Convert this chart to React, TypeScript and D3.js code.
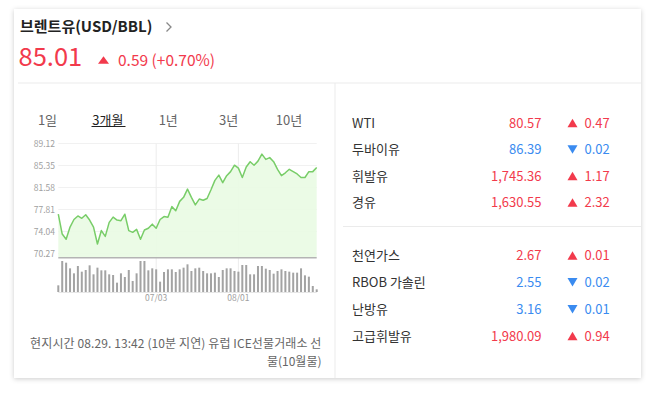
import * as d3 from 'd3';

const FONT = "'Noto Sans CJK KR', 'Noto Sans', sans-serif";
const RED = '#f23a4c';
const BLUE = '#3a8bf0';

// ── Data ──────────────────────────────────────────────────
const title = '브렌트유(USD/BBL)';
const price = '85.01';
const change = '0.59 (+0.70%)';

const tabs = ['1일', '3개월', '1년', '3년', '10년'];
const activeTab = 1;

// daily close, 3 months (index 25 = 07/03, 46 = 08/01)
const closes = [
  77.0, 73.6, 72.7, 74.8, 76.1, 76.7, 76.3, 76.9, 76.0, 74.8,
  71.9, 74.2, 73.2, 75.6, 76.5, 76.0, 75.9, 77.0, 74.2, 73.9,
  74.4, 72.7, 74.3, 74.6, 75.3, 74.6, 76.1, 76.6, 76.5, 78.3,
  77.6, 79.2, 79.9, 81.3, 79.9, 78.6, 79.6, 79.4, 79.7, 81.2,
  82.8, 83.7, 82.4, 83.6, 84.3, 85.4, 84.9, 83.3, 85.1, 86.0,
  85.4, 86.1, 87.3, 86.4, 86.7, 86.0, 84.7, 83.6, 84.1, 84.7,
  84.3, 83.9, 83.3, 83.3, 84.3, 84.3, 85.01,
];

const volumes = [
  20, 93, 88, 71, 56, 78, 61, 66, 80, 53,
  73, 65, 65, 53, 51, 28, 56, 45, 66, 33,
  56, 93, 93, 65, 71, 68, 31, 60, 68, 68,
  60, 68, 73, 83, 63, 71, 73, 63, 56, 56,
  58, 45, 66, 71, 71, 63, 61, 81, 81, 53,
  53, 78, 78, 70, 66, 55, 63, 68, 63, 61,
  58, 58, 71, 50, 46, 18, 8,
];

const yTicks = [70.27, 74.04, 77.81, 81.58, 85.35, 89.12];
const xTickIndex = [25, 46];
const xTickLabels = ['07/03', '08/01'];

const names = ['WTI', '두바이유', '휘발유', '경유', '천연가스', 'RBOB 가솔린', '난방유', '고급휘발유'];
const values = ['80.57', '86.39', '1,745.36', '1,630.55', '2.67', '2.55', '3.16', '1,980.09'];
const changes = ['0.47', '0.02', '1.17', '2.32', '0.01', '0.02', '0.01', '0.94'];
const ups = [true, false, true, true, true, false, false, true];

const footnote1 = '현지시간 08.29. 13:42 (10분 지연) 유럽 ICE선물거래소 선';
const footnote2 = '물(10월물)';

export default function App() {
  const W = 657, H = 393;

  // ── Scales ──────────────────────────────────────────────
  const x = d3.scaleLinear().domain([0, closes.length - 1]).range([58.3, 316.7]);
  const y = d3.scaleLinear().domain([70.27, 89.12]).range([253.5, 143.5]);
  const plotBottom = 257;
  const vy = d3.scaleLinear().domain([0, d3.max(volumes)!]).range([292, 261]);

  const line = d3.line<number>().x((_, i) => x(i)).y(d => y(d));
  const area = d3.area<number>().x((_, i) => x(i)).y0(plotBottom).y1(d => y(d));

  const tabX = d3.scalePoint<string>().domain(tabs).range([47.5, 289]);

  const rowY = d3.scaleLinear().domain([0, 3]).range([123, 202.5]);
  const rowY2 = d3.scaleLinear().domain([4, 7]).range([255.5, 336]);
  const ry = (i: number) => (i < 4 ? rowY(i) : rowY2(i));

  const tri = (cx: number, cy: number, w: number, h: number, up: boolean) =>
    up
      ? `M${cx - w / 2},${cy + h / 2}L${cx + w / 2},${cy + h / 2}L${cx},${cy - h / 2}Z`
      : `M${cx - w / 2},${cy - h / 2}L${cx + w / 2},${cy - h / 2}L${cx},${cy + h / 2}Z`;

  return (
    <div style={{ position: 'fixed', left: 0, top: 0 }}>
      <svg width={W} height={H} style={{ display: 'block', fontFamily: FONT }}>
        <defs>
          <filter id="shadow" x="-5%" y="-5%" width="110%" height="110%">
            <feDropShadow dx="0" dy="1" stdDeviation="2.5" floodColor="#000" floodOpacity="0.2" />
          </filter>
        </defs>
        <rect width={W} height={H} fill="#fff" />
        <rect x={14} y={9} width={627} height={369} fill="#fff" filter="url(#shadow)" />

        {/* ── Header ── */}
        <text x={20} y={32} fontSize={15} fontWeight={700} fill="#222">{title}</text>
        <path d="M166.5,22.5L171,27L166.5,31.5" fill="none" stroke="#888" strokeWidth={1.3} />
        <text x={18.5} y={66} fontSize={25.5} fill={RED}>{price}</text>
        <path d={tri(103.5, 60, 11, 7.5, true)} fill={RED} />
        <text x={118} y={66} fontSize={15.5} fill={RED}>{change}</text>

        <line x1={18} x2={641} y1={83} y2={83} stroke="#ebebeb" />
        <line x1={335} x2={335} y1={83} y2={378} stroke="#ebebeb" />

        {/* ── Tabs ── */}
        {tabs.map((t, i) => (
          <text key={t} x={tabX(t)} y={124.5} fontSize={13} textAnchor="middle"
            fill={i === activeTab ? '#222' : '#666'}>{t}</text>
        ))}
        <line x1={91.5} x2={125.5} y1={126.5} y2={126.5} stroke="#222" />

        {/* ── Grid ── */}
        {yTicks.map(t => (
          <g key={t}>
            <line x1={58.3} x2={316.7} y1={y(t)} y2={y(t)} stroke="#f1f1f1" />
            <text x={55} y={y(t) + 3} fontSize={8.5} fill="#a0a0a0" textAnchor="end">{t.toFixed(2)}</text>
          </g>
        ))}
        {xTickIndex.map((idx, k) => (
          <g key={idx}>
            <line x1={x(idx)} x2={x(idx)} y1={143.5} y2={292} stroke="#ececec" />
            <text x={x(idx)} y={301} fontSize={8.5} fill="#a0a0a0" textAnchor="middle">{xTickLabels[k]}</text>
          </g>
        ))}

        {/* ── Price area + line ── */}
        <path d={area(closes)!} fill="#e9fbe3" opacity={0.9} />
        <path d={line(closes)!} fill="none" stroke="#78cd68" strokeWidth={1.5} strokeLinejoin="round" />
        <line x1={58.3} x2={316.7} y1={257.8} y2={257.8} stroke="#b4b4b4" strokeWidth={1.6} />

        {/* ── Volume ── */}
        {volumes.map((v, i) => (
          <rect key={i} x={x(i) - 1} y={vy(v)} width={2} height={vy(0) - vy(v)} fill="#a3a3a3" />
        ))}
        <line x1={58.3} x2={316.7} y1={292.5} y2={292.5} stroke="#e6e6e6" />

        {/* ── Footnote ── */}
        <text x={321.5} y={348} fontSize={12} fill="#666" textAnchor="end" letterSpacing={0.1}>{footnote1}</text>
        <text x={321.5} y={366} fontSize={12} fill="#666" textAnchor="end">{footnote2}</text>

        {/* ── Right list ── */}
        <line x1={343} x2={641} y1={226.5} y2={226.5} stroke="#ebebeb" />
        {names.map((n, i) => {
          const c = ups[i] ? RED : BLUE;
          const cy = ry(i);
          return (
            <g key={n}>
              <text x={352} y={cy + 4.5} fontSize={13} fill="#333">{n}</text>
              <text x={541.5} y={cy + 4.5} fontSize={13} fill={c} textAnchor="end">{values[i]}</text>
              <path d={tri(572.5, cy, 10, 8.5, ups[i])} fill={c} />
              <text x={584.5} y={cy + 4.5} fontSize={13} fill={c}>{changes[i]}</text>
            </g>
          );
        })}
      </svg>
    </div>
  );
}
